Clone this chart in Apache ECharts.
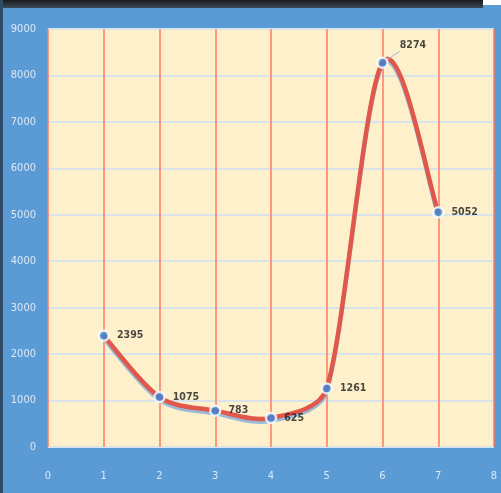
<!DOCTYPE html>
<html>
<head>
<meta charset="utf-8">
<script src="https://cdn.jsdelivr.net/npm/echarts@6/dist/echarts.min.js"></script>
<style>
html,body{margin:0;padding:0;background:#5b9bd5;}
#c{width:501px;height:493px;}
</style>
</head>
<body>
<div id="c"></div>
<script>
const xValues = [1, 2, 3, 4, 5, 6, 7];
const yValues = [2395, 1075, 783, 625, 1261, 8274, 5052];
const labels = ['2395', '1075', '783', '625', '1261', '8274', '5052'];
const xTicks = ['0', '1', '2', '3', '4', '5', '6', '7', '8'];
const yTicks = ['0', '1000', '2000', '3000', '4000', '5000', '6000', '7000', '8000', '9000'];

const chart = echarts.init(document.getElementById('c'), null, {renderer: 'canvas'});
const font = '"Liberation Sans Narrow", "DejaVu Sans Condensed", "Liberation Sans", sans-serif';

const points = xValues.map((x, i) => {
  const d = {value: [x, yValues[i]]};
  if (i === 5) {
    d.label = {position: 'right', offset: [4, -17]};
    d.labelLine = {show: true, lineStyle: {color: '#9fb8d0', width: 1}};
  }
  return d;
});

// Smoothed (Bezier) path through the data points, in pixel space from the axes
function limitVec(vx, vy, maxLen) {
  const len = Math.sqrt(vx * vx + vy * vy);
  if (len > maxLen && len > 0) {
    const s = maxLen / len;
    return [vx * s, vy * s];
  }
  return [vx, vy];
}
function smoothPath(pts) {
  let d = 'M' + pts[0][0] + ' ' + pts[0][1];
  for (let i = 0; i < pts.length - 1; i++) {
    const p0 = pts[i - 1] || pts[i];
    const p1 = pts[i];
    const p2 = pts[i + 1];
    const p3 = pts[i + 2] || pts[i + 1];
    const segLen = Math.hypot(p2[0] - p1[0], p2[1] - p1[1]);
    const maxLen = segLen * 0.35;
    const v1 = limitVec((p2[0] - p0[0]) / 6, (p2[1] - p0[1]) / 6, maxLen);
    const v2 = limitVec((p3[0] - p1[0]) / 6, (p3[1] - p1[1]) / 6, maxLen);
    d += ' C' + (p1[0] + v1[0]) + ' ' + (p1[1] + v1[1]) + ' ' + (p2[0] - v2[0]) + ' ' + (p2[1] - v2[1]) + ' ' + p2[0] + ' ' + p2[1];
  }
  return d;
}

chart.setOption({
  backgroundColor: '#5b9bd5',
  animation: false,
  graphic: [
    {type: 'rect', shape: {x: 0, y: 0, width: 483, height: 8}, style: {fill: new echarts.graphic.LinearGradient(0,0,0,1,[{offset:0,color:'#1a1a1a'},{offset:1,color:'#3a4a5a'}])}, z: 100},
    {type: 'rect', shape: {x: 483, y: 0, width: 18, height: 5}, style: {fill: '#ffffff'}, z: 100},
    {type: 'rect', shape: {x: 0, y: 0, width: 3, height: 493}, style: {fill: '#2f4a66'}, z: 100}
  ],
  grid: {left: 48, right: 7, top: 29, bottom: 46, show: true, backgroundColor: '#fff0cc', borderWidth: 0},
  xAxis: {
    type: 'value', min: 0, max: 8, interval: 1,
    axisLine: {show: false}, axisTick: {show: false},
    axisLabel: {color: '#dce8f5', fontFamily: font, fontSize: 11, margin: 24, formatter: v => xTicks[Math.round(v)]},
    splitLine: {show: true, lineStyle: {color: '#ff7a66', width: 1.5}}
  },
  yAxis: {
    type: 'value', min: 0, max: 9000, interval: 1000,
    axisLine: {show: false}, axisTick: {show: false},
    axisLabel: {color: '#dce8f5', fontFamily: font, fontSize: 11, margin: 12, formatter: v => yTicks[Math.round(v / 1000)]},
    splitLine: {show: true, lineStyle: {color: '#d9e3ea', width: 2}}
  },
  series: [
    {
      type: 'custom',
      data: [[xValues[0], yValues[0]]],
      silent: true,
      z: 3,
      renderItem: function (params, api) {
        const pts = xValues.map((x, i) => api.coord([x, yValues[i]]));
        const pd = smoothPath(pts);
        return {
          type: 'group',
          children: [
            {type: 'path', shape: {pathData: pd}, position: [0, 3], style: {fill: null, stroke: 'rgba(120,170,220,0.75)', lineWidth: 4}},
            {type: 'path', shape: {pathData: pd}, style: {fill: null, stroke: '#e0574c', lineWidth: 4.5, lineCap: 'round'}}
          ]
        };
      }
    },
    {
      type: 'scatter',
      data: points,
      symbol: 'circle',
      symbolSize: 10,
      z: 5,
      itemStyle: {color: '#3a86d6', borderColor: '#ffffff', borderWidth: 2.5},
      label: {
        show: true, position: 'right', distance: 7,
        color: '#1a1a1a', fontFamily: font, fontSize: 10.5, fontWeight: 'bold',
        formatter: p => labels[p.dataIndex]
      }
    }
  ]
});
</script>
</body>
</html>
